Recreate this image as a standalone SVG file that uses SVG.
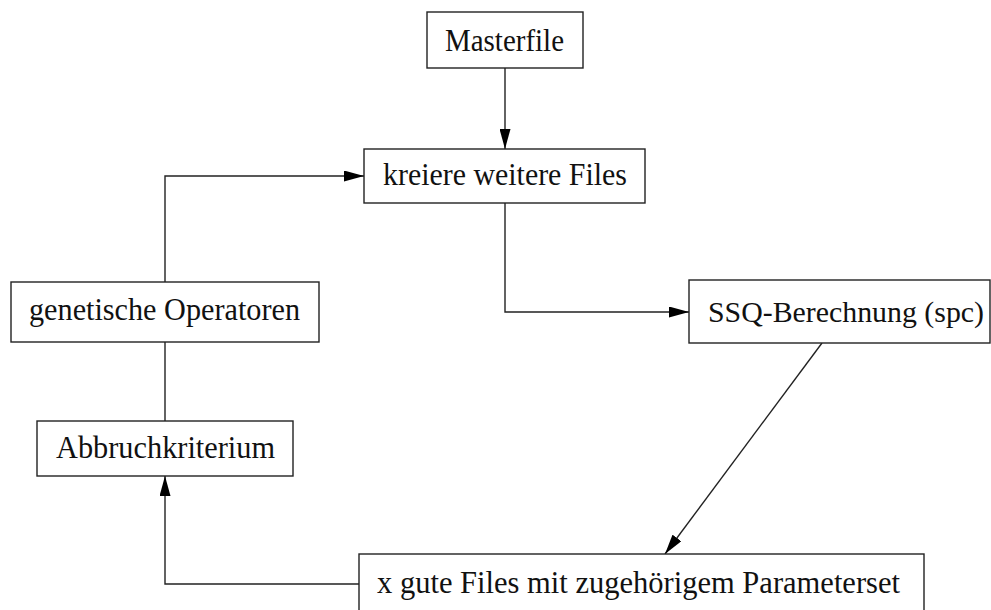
<svg xmlns="http://www.w3.org/2000/svg" width="991" height="610" viewBox="0 0 991 610">
  <style>
    .box { fill: #ffffff; stroke: #222222; stroke-width: 1.4; }
    .lbl { font-family: "Liberation Serif", "DejaVu Serif", serif; font-size: 31px; fill: #111111; text-anchor: start; }
    .lbl.narrow { font-size: 29px; }
    .edge { fill: none; stroke: #222222; stroke-width: 1.4; }
  </style>
  <defs>
    <marker id="arrow" markerUnits="userSpaceOnUse" markerWidth="20" markerHeight="11" refX="20" refY="5.5" orient="auto">
      <path d="M0,0 L20,5.5 L0,11 z" fill="#000000"/>
    </marker>
  </defs>
  <rect width="991" height="610" fill="#ffffff"/>

  <!-- connectors -->
  <g id="connectors">
    <line class="edge" x1="505" y1="68" x2="505" y2="149" marker-end="url(#arrow)"/>
    <polyline class="edge" points="505,203 505,312 689,312" marker-end="url(#arrow)"/>
    <line class="edge" x1="822" y1="343" x2="665" y2="554" marker-end="url(#arrow)"/>
    <polyline class="edge" points="359,584 165,584 165,476" marker-end="url(#arrow)"/>
    <line class="edge" x1="165" y1="421" x2="165" y2="342"/>
    <polyline class="edge" points="165,282 165,176 364,176" marker-end="url(#arrow)"/>
  </g>

  <!-- nodes -->
  <g id="masterfile">
    <rect class="box" x="427" y="12" width="156" height="56"/>
    <text class="lbl" x="445" y="51" textLength="119" lengthAdjust="spacingAndGlyphs">Masterfile</text>
  </g>
  <g id="kreiere">
    <rect class="box" x="364" y="149" width="281" height="54"/>
    <text class="lbl" x="383" y="185" textLength="244" lengthAdjust="spacingAndGlyphs">kreiere weitere Files</text>
  </g>
  <g id="ssq">
    <rect class="box" x="689" y="280" width="301" height="63"/>
    <text class="lbl narrow" x="708" y="322" textLength="276" lengthAdjust="spacingAndGlyphs">SSQ-Berechnung (spc)</text>
  </g>
  <g id="gute-files">
    <rect class="box" x="359" y="554" width="565" height="70"/>
    <text class="lbl" x="377" y="593" textLength="523" lengthAdjust="spacingAndGlyphs">x gute Files mit zugehörigem Parameterset</text>
  </g>
  <g id="abbruch">
    <rect class="box" x="37" y="421" width="256" height="55"/>
    <text class="lbl" x="56" y="458" textLength="219" lengthAdjust="spacingAndGlyphs">Abbruchkriterium</text>
  </g>
  <g id="genetisch">
    <rect class="box" x="11" y="282" width="308" height="60"/>
    <text class="lbl" x="29" y="320" textLength="271" lengthAdjust="spacingAndGlyphs">genetische Operatoren</text>
  </g>
</svg>
